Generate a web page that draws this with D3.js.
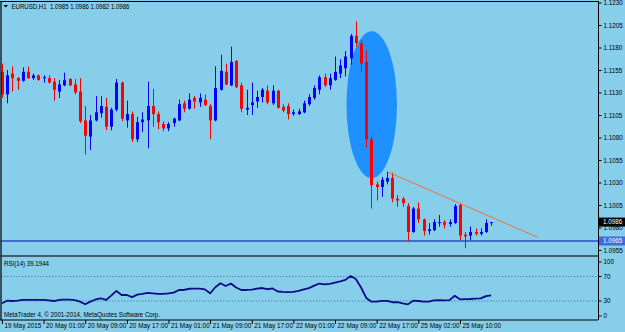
<!DOCTYPE html>
<html><head><meta charset="utf-8">
<script src="https://cdn.jsdelivr.net/npm/d3@7"></script>
<style>
html,body{margin:0;padding:0;background:#87CEEB;overflow:hidden;}
svg{display:block;}
text{font-family:"Liberation Sans",Arial,sans-serif;}
</style></head><body>
<svg id="c" width="625" height="332"></svg>
<script>
// ---------- DATA ----------
const opens = [1.1153,1.1128,1.1151,1.1146,1.1143,1.1153,1.1146,1.1149,1.1146,1.1146,
1.1142,1.1131,1.1138,1.1145,1.1139,1.1131,1.1099,1.1081,1.1099,1.1107,
1.1114,1.1092,1.1111,1.1141,1.1099,1.1106,1.1078,1.1097,1.1099,1.1115,
1.1106,1.1095,1.1090,1.1096,1.1099,1.1118,1.1112,1.1124,1.1119,1.1122,
1.1115,1.1099,1.1133,1.1153,1.1138,1.1165,1.1138,1.1111,1.1116,1.1120,
1.1125,1.1132,1.1118,1.1132,1.1114,1.1115,1.1106,1.1106,1.1108,1.1117,
1.1124,1.1133,1.1147,1.1138,1.1144,1.1151,1.1157,1.1168,1.1193,1.1185,
1.1164,1.1078,1.1028,1.1025,1.1031,1.1035,1.1012,1.1012,1.1004,1.0975,
1.1001,1.0989,1.0976,1.0977,1.0985,1.0986,1.0984,1.0985,1.1005,1.0972,
1.0971,1.0975,1.0973,1.0975,1.0985];
const highs = [1.1162,1.1155,1.1159,1.1147,1.1158,1.1159,1.1151,1.1150,1.1149,1.1149,
1.1146,1.1144,1.1152,1.1146,1.1145,1.1146,1.1115,1.1105,1.1126,1.1126,
1.1124,1.1113,1.1145,1.1142,1.1121,1.1109,1.1103,1.1108,1.1142,1.1134,
1.1109,1.1098,1.1097,1.1102,1.1122,1.1121,1.1129,1.1126,1.1129,1.1128,
1.1117,1.1159,1.1172,1.1162,1.1181,1.1166,1.1141,1.1133,1.1141,1.1132,
1.1135,1.1138,1.1138,1.1133,1.1117,1.1118,1.1111,1.1112,1.1121,1.1128,
1.1138,1.1149,1.1151,1.1151,1.1170,1.1167,1.1176,1.1195,1.1209,1.1188,
1.1177,1.1081,1.1031,1.1036,1.1042,1.1041,1.1016,1.1014,1.1007,1.1003,
1.1008,1.0990,1.0985,1.0989,1.0994,1.0988,1.0989,1.1006,1.1007,1.0975,
1.0981,1.0979,1.0979,1.0989,1.0986];
const lows = [1.1124,1.1118,1.1131,1.1133,1.1142,1.1145,1.1144,1.1143,1.1141,1.1140,
1.1121,1.1124,1.1137,1.1137,1.1128,1.1096,1.1061,1.1066,1.1098,1.1102,
1.1088,1.1088,1.1109,1.1098,1.1091,1.1075,1.1075,1.1086,1.1068,1.1092,
1.1089,1.1087,1.1087,1.1092,1.1098,1.1108,1.1111,1.1112,1.1114,1.1115,
1.1078,1.1098,1.1132,1.1138,1.1137,1.1135,1.1108,1.1105,1.1105,1.1113,
1.1119,1.1117,1.1116,1.1112,1.1108,1.1100,1.1104,1.1105,1.1107,1.1115,
1.1122,1.1128,1.1136,1.1133,1.1143,1.1146,1.1148,1.1161,1.1181,1.1153,
1.1069,1.1001,1.1010,1.1014,1.1028,1.1008,1.1003,1.1003,1.0965,1.0974,
1.0985,1.0971,1.0972,1.0976,1.0981,1.0979,1.0981,1.0984,1.0966,1.0957,
1.0966,1.0971,1.0971,1.0974,1.0982];
const closes = [1.1128,1.1149,1.1146,1.1143,1.1153,1.1146,1.1149,1.1144,1.1147,1.1141,
1.1133,1.1139,1.1144,1.1138,1.1130,1.1098,1.1082,1.1099,1.1108,1.1115,
1.1092,1.1111,1.1141,1.1101,1.1106,1.1078,1.1097,1.1100,1.1115,1.1106,
1.1097,1.1090,1.1095,1.1101,1.1117,1.1112,1.1122,1.1120,1.1124,1.1116,
1.1099,1.1135,1.1154,1.1139,1.1164,1.1136,1.1112,1.1113,1.1119,1.1125,
1.1133,1.1119,1.1132,1.1113,1.1110,1.1106,1.1108,1.1109,1.1118,1.1125,
1.1135,1.1147,1.1138,1.1146,1.1153,1.1160,1.1170,1.1193,1.1185,1.1162,
1.1078,1.1027,1.1025,1.1033,1.1035,1.1012,1.1010,1.1007,1.0975,1.1001,
1.0989,1.0976,1.0978,1.0986,1.0986,1.0983,1.0986,1.1004,1.0971,1.0970,
1.0975,1.0973,1.0975,1.0985,1.0986];
const rsiValues = [26.3,30.5,30,30.5,31.7,31.7,31.7,31.7,31.7,31,
30,32,32.2,32.2,31.5,29,24.6,29,32.5,34.5,
31.7,38.8,46.5,39.8,39.8,36.4,40.5,41.5,43.3,42.5,
41.5,41.5,42.5,43.7,48,48,50,50.2,50.2,49,
42.6,52.4,58.9,54.5,58.5,52,48,48,48.5,50.2,
51.2,49.2,50.5,45.5,44.8,44.6,44.8,46.5,49,51,
55,58.5,57,58,60,62,64.5,70.9,66,52,
35,28.9,28.9,30.2,30.2,28,28,26,24.5,30.5,
30,29,28.9,31,31.4,31.1,31.5,38.5,32.8,33,
33.3,33.8,34.4,38,39.19];
const timeLabels = ["19 May 2015","20 May 01:00","20 May 09:00","20 May 17:00","21 May 01:00","21 May 09:00","21 May 17:00","22 May 01:00","22 May 09:00","22 May 17:00","25 May 02:00","25 May 10:00"];
const timeLabelBars = [0,8,16,24,32,40,48,56,64,72,80,88];
const priceTicks = [1.1230,1.1205,1.1180,1.1155,1.1130,1.1105,1.1080,1.1055,1.1030,1.1005,1.0980,1.0955];
const rsiTicks = [100,70,30,0];
const rsiLevels = [70,30];
const hLinePrice = 1.0965;
const lastPrice = 1.0986;
const trendBars = [74, 103];
const trendPrices = [1.1042, 1.0969];
const ellipseBars = [66.2, 75.9];
const ellipsePrices = [1.1035, 1.1198];
const headerText = "EURUSD,H1  1.0985 1.0986 1.0982 1.0986";
const rsiTitle = "RSI(14) 39.1944";
const copyright = "MetaTrader 4, \u00A9 2001-2014, MetaQuotes Software Corp.";

// ---------- LAYOUT ----------
const W = 625, H = 332;
const axisX = 598;
const mainTop = 2, mainBottom = 255.5;
const rsiTop = 257.5, rsiBottom = 320;
const svg = d3.select("#c");
const n = closes.length;

const x = d3.scaleLinear().domain([0, n - 1]).range([1.9, 1.9 + (n - 1) * 5.205]);
const y = d3.scaleLinear().domain([1.0955, 1.1230]).range([250, 2.5]);
const ry = d3.scaleLinear().domain([0, 100]).range([319.4, 258.1]);

svg.append("rect").attr("width", W).attr("height", H).attr("fill", "#87CEEB");

svg.append("defs").append("clipPath").attr("id", "mainClip")
  .append("rect").attr("x", 1).attr("y", mainTop).attr("width", axisX - 1).attr("height", mainBottom - mainTop);
svg.select("defs").append("clipPath").attr("id", "rsiClip")
  .append("rect").attr("x", 1).attr("y", rsiTop).attr("width", axisX - 1).attr("height", rsiBottom - rsiTop);

const main = svg.append("g").attr("clip-path", "url(#mainClip)");

// ellipse object (behind candles)
main.append("ellipse")
  .attr("cx", (x(ellipseBars[0]) + x(ellipseBars[1])) / 2)
  .attr("cy", (y(ellipsePrices[0]) + y(ellipsePrices[1])) / 2)
  .attr("rx", Math.abs(x(ellipseBars[1]) - x(ellipseBars[0])) / 2)
  .attr("ry", Math.abs(y(ellipsePrices[0]) - y(ellipsePrices[1])) / 2)
  .attr("fill", "#1E90FF");

// horizontal line
main.append("line").attr("x1", 0).attr("x2", axisX)
  .attr("y1", y(hLinePrice)).attr("y2", y(hLinePrice))
  .attr("stroke", "#4169E1").attr("stroke-width", 2.2);

// candles
const bars = d3.range(n).map(i => ({i, o: opens[i], h: highs[i], l: lows[i], c: closes[i]}));
const cg = main.append("g");
const col = d => d.c >= d.o ? "#0000FF" : "#FF0000";
cg.selectAll("line.wick").data(bars).join("line")
  .attr("x1", d => Math.round(x(d.i)) + 0.5).attr("x2", d => Math.round(x(d.i)) + 0.5)
  .attr("y1", d => y(d.h)).attr("y2", d => y(d.l))
  .attr("stroke", col).attr("stroke-width", 1);
cg.selectAll("rect.body").data(bars).join("rect")
  .attr("x", d => Math.round(x(d.i)) - 1)
  .attr("y", d => Math.min(y(d.o), y(d.c)))
  .attr("width", 3)
  .attr("height", d => Math.max(1, Math.abs(y(d.o) - y(d.c))))
  .attr("fill", col);

// trend line
main.append("line")
  .attr("x1", x(trendBars[0])).attr("y1", y(trendPrices[0]))
  .attr("x2", x(trendBars[1])).attr("y2", y(trendPrices[1]))
  .attr("stroke", "#F0703A").attr("stroke-width", 1);

// header
svg.append("path").attr("d", "M3.5,5 L8,5 L5.75,7.6 Z").attr("fill", "#000");
svg.append("text").attr("x", 11.5).attr("y", 9).attr("font-size", 6.6).attr("fill", "#000")
  .attr("xml:space", "preserve").attr("textLength", 118).attr("lengthAdjust", "spacingAndGlyphs")
  .text(headerText);

// ---------- RSI ----------
const rsiG = svg.append("g").attr("clip-path", "url(#rsiClip)");
rsiG.selectAll("line.lvl").data(rsiLevels).join("line")
  .attr("x1", 1).attr("x2", axisX).attr("y1", d => ry(d)).attr("y2", d => ry(d))
  .attr("stroke", "#3d98ad").attr("stroke-width", 1).attr("stroke-dasharray", "1.5,1.5");
rsiG.append("path").datum(rsiValues)
  .attr("d", d3.line().x((d, i) => x(i)).y(d => ry(d)))
  .attr("fill", "none").attr("stroke", "#0a0a8a").attr("stroke-width", 1.8).attr("stroke-linejoin", "round");
svg.append("text").attr("x", 4).attr("y", 265.7).attr("font-size", 6.4).attr("fill", "#000")
  .attr("textLength", 45).attr("lengthAdjust", "spacingAndGlyphs").text(rsiTitle);
svg.append("text").attr("x", 4).attr("y", 316.6).attr("font-size", 6.4).attr("fill", "#000")
  .attr("textLength", 156).attr("lengthAdjust", "spacingAndGlyphs").text(copyright);

// ---------- FRAMES ----------
const frame = svg.append("g").attr("stroke", "#000").attr("fill", "none");
frame.append("line").attr("x1", 0).attr("x2", axisX + 0.5).attr("y1", 1.5).attr("y2", 1.5).attr("stroke-width", 1.2);
frame.append("line").attr("x1", 1).attr("x2", 1).attr("y1", 1).attr("y2", rsiBottom).attr("stroke-width", 1.2);
frame.append("line").attr("x1", 0).attr("x2", axisX).attr("y1", 256).attr("y2", 256).attr("stroke", "#2a3a40").attr("stroke-width", 1.6);
frame.append("line").attr("x1", 0).attr("x2", axisX).attr("y1", rsiBottom).attr("y2", rsiBottom).attr("stroke-width", 1);

// ---------- AXES ----------
const priceAxis = d3.axisRight(y).tickValues(priceTicks).tickFormat(d3.format(".4f")).tickSize(3).tickPadding(2);
const pa = svg.append("g").attr("transform", `translate(${axisX + 0.5},0)`).call(priceAxis);
pa.select(".domain").attr("d", `M0,1 V${rsiBottom}`).attr("stroke", "#000");
pa.selectAll("text").attr("font-size", 6.3).attr("font-family", "Liberation Sans, Arial, sans-serif").attr("fill", "#000");

const rsiAxis = d3.axisRight(ry).tickValues(rsiTicks).tickFormat(d3.format("d")).tickSize(3).tickPadding(2);
const ra = svg.append("g").attr("transform", `translate(${axisX + 0.5},0)`).call(rsiAxis);
ra.select(".domain").remove();
ra.selectAll(".tick").attr("transform", d => `translate(0,${Math.min(rsiBottom - 4, Math.max(rsiTop + 4.5, ry(d)))})`);
ra.selectAll("text").attr("font-size", 6.3).attr("font-family", "Liberation Sans, Arial, sans-serif").attr("fill", "#000");

// price labels (last price, h-line)
function priceBox(price, fill) {
  const yy = y(price);
  svg.append("rect").attr("x", axisX + 1).attr("y", yy - 4.5).attr("width", W - axisX - 1).attr("height", 9).attr("fill", fill);
  svg.append("text").attr("x", axisX + 5).attr("y", yy + 2.3).attr("font-size", 6.3).attr("fill", "#fff")
    .text(d3.format(".4f")(price));
}
priceBox(lastPrice, "#000");
priceBox(hLinePrice, "#4169E1");

// time axis
const timeScale = d3.scaleLinear().domain([0, n - 1]).range(x.range());
const timeAxis = d3.axisBottom(timeScale).tickValues(timeLabelBars)
  .tickFormat((d, i) => timeLabels[i]).tickSize(4).tickPadding(0);
const ta = svg.append("g").attr("transform", `translate(0,${rsiBottom})`).call(timeAxis);
ta.select(".domain").remove();
ta.selectAll(".tick line").attr("stroke", "#000");
ta.selectAll("text").attr("text-anchor", "start").attr("x", 2).attr("dy", 0).attr("y", 7.5)
  .attr("font-size", 6.4).attr("font-family", "Liberation Sans, Arial, sans-serif").attr("fill", "#000");
</script>
</body></html>
